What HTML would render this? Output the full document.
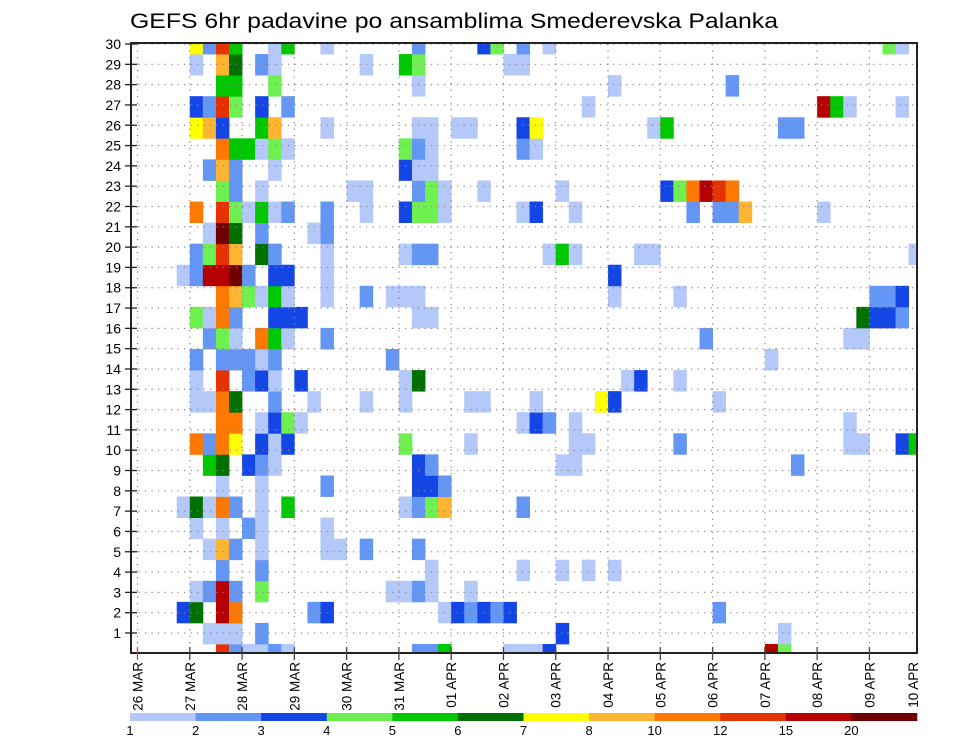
<!DOCTYPE html>
<html><head><meta charset="utf-8"><style>
html,body{margin:0;padding:0;background:#fff;}
svg{display:block;font-family:"Liberation Sans",sans-serif;}
</style></head><body>
<svg id="chart" width="960" height="742" viewBox="0 0 960 742" xmlns="http://www.w3.org/2000/svg">
<rect width="960" height="742" fill="#fff"/>
<text x="130" y="28" font-size="21" fill="#000" textLength="648" lengthAdjust="spacingAndGlyphs">GEFS 6hr padavine po ansamblima Smederevska Palanka</text>
<defs><clipPath id="plotclip"><rect x="131" y="43" width="786" height="610"/></clipPath></defs>
<g id="cells" clip-path="url(#plotclip)"></g>
<g id="grid"></g>
<rect x="131" y="43" width="786" height="610" fill="none" stroke="#222" stroke-width="2"/>
<g id="yaxis"></g>
<g id="xaxis"></g>
<g id="colorbar"></g>
</svg>
<script>
// ---- data ----
const dayLabels = ["26 MAR","27 MAR","28 MAR","29 MAR","30 MAR","31 MAR","01 APR","02 APR","03 APR","04 APR","05 APR","06 APR","07 APR","08 APR","09 APR","10 APR"];
const memberTicks = [1,2,3,4,5,6,7,8,9,10,11,12,13,14,15,16,17,18,19,20,21,22,23,24,25,26,27,28,29,30];
const levels = [1,2,3,4,5,6,7,8,10,12,15,20];
const levelColors = ["#b4c8fa","#6496f5","#1446e6","#6ef050","#00c800","#007000","#ffff00","#ffb432","#ff7800","#e63200","#b40000","#6e0000"];
// rows: member index (0 bottom .. 29 top); entries "col:code"
const codeValue = {a:1.5,b:2.5,c:3.5,d:4.5,e:5.5,f:6.5,g:7.5,h:9,i:11,j:13.5,k:17,l:22};
const memberRows = [
"6j 7b 8a 9a 10b 11a 21b 22b 23e 28a 29a 30a 31c 48k 49d",
"5a 6a 7a 9b 32c 49a",
"3c 4f 6k 7i 13b 14c 23a 24c 25b 26c 27b 28c 44b",
"4a 5b 6k 7b 9d 19a 20a 21b 22a 25a",
"6b 9b 22a 29a 32a 34a 36a",
"5a 6h 7b 9a 14a 15a 17b 21b",
"4a 6a 8b 9a 14a",
"3a 4f 5a 6i 7b 9a 11e 20a 21b 22d 23h 29b",
"6a 9a 14b 21c 22c 23b",
"5e 6f 8c 9b 10a 21c 22b 32a 33a 50b",
"4i 5b 6i 7g 9c 10a 11c 20d 25a 33a 34a 41b 54a 55a 58c 59e",
"6i 7i 9a 10c 11d 12a 29a 30c 31b 33a 54a",
"4a 5a 6i 7f 10b 13a 17a 20a 25a 26a 30a 35g 36c 44a",
"4a 6j 8b 9c 10a 12c 20a 21f 37a 38c 41a",
"4b 6b 7b 8b 9a 10b 19b 48a",
"5b 6d 7a 9i 10e 11a 14b 43b 54a 55a",
"4d 5a 6i 7b 10c 11c 12c 21a 22a 55f 56c 57c 58b",
"6i 7h 8d 9a 10e 11a 14a 17b 19a 20a 21a 36a 41a 56b 57b 58c",
"3a 4b 5k 6k 7l 8b 10c 11c 14a 36c",
"4b 5d 6j 7h 9f 10b 14a 20a 21b 22b 31a 32e 33a 38a 39a 59a",
"5a 6l 7f 9b 13a 14b",
"4i 6j 7d 8a 9e 10a 11b 14b 17a 20c 21d 22d 23a 29a 30c 33a 42b 44b 45b 46h 52a",
"6d 7b 9a 16a 17a 21b 22d 23a 26a 32a 40c 41d 42i 43k 44j 45i",
"5b 6h 7b 10a 20c 21a 22a",
"6i 7e 8e 9a 10d 11a 20d 21b 22a 29b 30a",
"4g 5h 6c 9e 10h 14a 21a 22a 24a 25a 29c 30g 39a 40e 49b 50b",
"4c 5b 6j 7d 9c 11b 34a 52k 53e 54a 58a",
"6e 7e 10d 21a 36a 45b",
"4a 6h 7f 9b 10a 17a 20e 21d 28a 29a",
"4g 5b 6j 7e 10a 11e 14a 21b 26c 27d 29b 31a 57d 58a"
];
// ---- scales ----
const X0 = 137.5, CW = 13.07, DAYW = CW*4;
const xCol = c => X0 + c*CW;
const BOT = 644, RH = 21.07;
const yMember = m => BOT - m*RH;
const yTick = k => 633 - (k-1)*20.31;
function colorFor(v){let i=0;for(let k=0;k<levels.length;k++){if(v>=levels[k])i=k;}return levelColors[i];}
const NS="http://www.w3.org/2000/svg";
function mk(tag,attrs,parent){const e=document.createElementNS(NS,tag);for(const k in attrs)e.setAttribute(k,attrs[k]);parent.appendChild(e);return e;}
// cells
const cellsG=document.getElementById('cells');
memberRows.forEach((row,m)=>{
  row.split(' ').forEach(tok=>{
    const col=parseInt(tok,10), code=tok.replace(/[0-9]/g,''), v=codeValue[code];
    const r=mk('rect',{x:xCol(col).toFixed(2),y:yMember(m).toFixed(2),width:(CW+0.4).toFixed(2),height:(RH+0.4).toFixed(2),fill:colorFor(v)},cellsG);
    
    
  });
});
// grid
const gridG=document.getElementById('grid');
memberTicks.forEach(k=>{
  const l=mk('line',{x1:132,x2:916,y1:yTick(k),y2:yTick(k),stroke:'#888','stroke-width':1.2,'stroke-dasharray':'1.2,5.3'},gridG);
  
  
});
dayLabels.forEach((d,i)=>{
  const x=X0+i*DAYW; if(x>915)return;
  const l=mk('line',{x1:x,x2:x,y1:44,y2:652,stroke:'#888','stroke-width':1.2,'stroke-dasharray':'1.2,5.3'},gridG);
  
  
});
// y axis
const yG=document.getElementById('yaxis');
memberTicks.forEach(k=>{
  const y=yTick(k);
  const t=mk('line',{x1:125,x2:137,y1:y,y2:y,stroke:'#222','stroke-width':1.3},yG);
  
  
  const tx=mk('text',{x:121,y:y+5,'font-size':14,'text-anchor':'end',fill:'#000'},yG);
  tx.textContent=k;
  
  
});
// x axis
const xG=document.getElementById('xaxis');
dayLabels.forEach((d,i)=>{
  let x=X0+i*DAYW;
  const lx=Math.min(x,913);
  if(x<917){
    const t=mk('line',{x1:x,x2:x,y1:647,y2:660,stroke:i==0?'#c44':'#444','stroke-width':1.3},xG);
    
    
  }
  const tx=mk('text',{x:0,y:0,'font-size':13.5,fill:'#000','text-anchor':'end',transform:'translate('+(lx+5)+',662) rotate(-90)'},xG);
  tx.textContent=d;
  
  
});
// colorbar
const cbG=document.getElementById('colorbar');
const CB0=130, CBW=(917-130)/levels.length;
levels.forEach((lv,i)=>{
  const r=mk('rect',{x:CB0+i*CBW,y:713,width:CBW+0.3,height:8,fill:levelColors[i]},cbG);
  
  
  const tx=mk('text',{x:CB0+i*CBW,y:735,'font-size':13,'text-anchor':'middle',fill:'#000'},cbG);
  tx.textContent=lv;
  
  
});
</script>
</body></html>
